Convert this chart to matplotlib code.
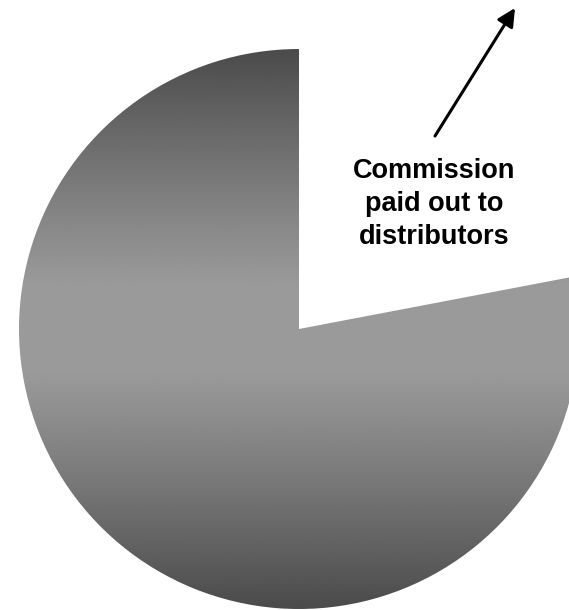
import numpy as np
import matplotlib.pyplot as plt

# slice shares (percent): kept by company, commission paid out
shares = [78, 22]
label = 'Commission\npaid out to\ndistributors'

W, H = 569, 610
fig = plt.figure(figsize=(W / 100, H / 100), dpi=100)
ax = fig.add_axes([0, 0, 1, 1])
ax.set_xlim(0, W)
ax.set_ylim(0, H)
ax.set_aspect('equal')
ax.axis('off')

cx, cy, r = 299, H - 329, 280
wedges, _ = ax.pie(shares, startangle=90, counterclock=True,
                   center=(cx, cy), radius=r, frame=True,
                   colors=['none', 'none'],
                   wedgeprops=dict(linewidth=0))
ax.set_xlim(0, W)
ax.set_ylim(0, H)
ax.axis('off')

# vertical grey gradient: dark at top and bottom, light in the middle
ys = np.linspace(-1, 1, 400)
t = np.clip((np.abs(ys) - 0.15) / 0.85, 0, 1)
dark, light = 0x4b / 255, 0x9a / 255
g = light - (light - dark) * t ** 1.1
img = np.repeat(g[:, None], 2, axis=1)
im = ax.imshow(img, cmap='gray', vmin=0, vmax=1, aspect='auto',
               extent=(cx - r, cx + r, cy - r, cy + r), origin='upper',
               interpolation='bilinear', zorder=1)
im.set_clip_path(wedges[0])

ax.annotate('', xy=(515, H - 8), xytext=(435, H - 136),
            arrowprops=dict(arrowstyle='-|>', lw=2.2, color='black',
                            mutation_scale=27, shrinkA=0, shrinkB=0))
ax.text(434, H - 204, label, ha='center', va='center', fontsize=19.5,
        fontweight='bold', family='Liberation Sans', linespacing=1.35)

fig.savefig('out.png', dpi=100)
